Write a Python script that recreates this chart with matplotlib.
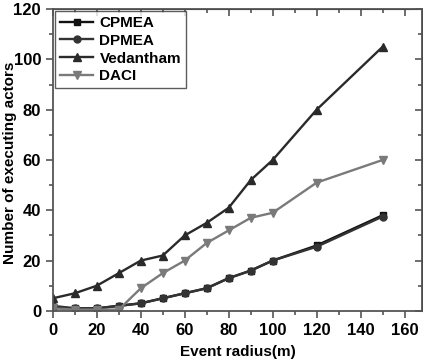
import matplotlib
matplotlib.use("Agg")
import matplotlib.pyplot as plt
from matplotlib.ticker import MultipleLocator

plt.rcParams["font.family"] = ["Liberation Sans", "DejaVu Sans"]
plt.rcParams["font.weight"] = "bold"

radius = [0, 10, 20, 30, 40, 50, 60, 70, 80, 90, 100, 120, 150]
cpmea = [1.5, 1, 1, 2, 3, 5, 7, 9, 13, 16, 20, 26, 38]
dpmea = [2, 1, 1, 2, 3, 5, 7, 9, 13, 16, 20, 25.5, 37.5]
vedantham = [5, 7, 10, 15, 20, 22, 30, 35, 41, 52, 60, 80, 105]
daci = [1, 0.5, 0.5, 0.5, 9, 15, 20, 27, 32, 37, 39, 51, 60]

fig = plt.figure(figsize=(4.23, 3.64), dpi=100)
ax = fig.add_axes([0.125, 0.146, 0.873, 0.829])

ax.plot(radius, cpmea, "-s", color="#111111", lw=1.7, ms=5, label="CPMEA")
ax.plot(radius, dpmea, "-o", color="#333333", lw=1.7, ms=5, label="DPMEA")
ax.plot(radius, vedantham, "-^", color="#2a2a2a", lw=1.7, ms=6, label="Vedantham")
ax.plot(radius, daci, "-v", color="#7a7a7a", lw=1.7, ms=6, label="DACI")

ax.set_xlim(0, 168)
ax.set_ylim(0, 120)
ax.xaxis.set_major_locator(MultipleLocator(20))
ax.xaxis.set_minor_locator(MultipleLocator(10))
ax.yaxis.set_major_locator(MultipleLocator(20))
ax.yaxis.set_minor_locator(MultipleLocator(10))
ax.tick_params(which="both", direction="out", labelsize=12, width=1.2, color="#555555")
ax.tick_params(which="major", length=5)
ax.tick_params(which="minor", length=3)
for lab in ax.get_xticklabels() + ax.get_yticklabels():
    lab.set_fontweight("bold")

for s in ax.spines.values():
    s.set_color("#555555")
    s.set_linewidth(1.3)

top = ax.secondary_xaxis("top")
top.xaxis.set_major_locator(MultipleLocator(20))
top.xaxis.set_minor_locator(MultipleLocator(10))
top.tick_params(which="both", direction="in", labeltop=False, color="#555555", width=1.2)
top.tick_params(which="major", length=5)
top.tick_params(which="minor", length=3)
right = ax.secondary_yaxis("right")
right.yaxis.set_major_locator(MultipleLocator(20))
right.yaxis.set_minor_locator(MultipleLocator(10))
right.tick_params(which="both", direction="in", labelright=False, color="#555555", width=1.2)
right.tick_params(which="major", length=5)
right.tick_params(which="minor", length=3)

ax.set_xlabel("Event radius(m)", fontsize=11, fontweight="bold", labelpad=5)
ax.set_ylabel("Number of executing actors", fontsize=11, fontweight="bold")
ax.yaxis.set_label_coords(-0.097, 0.49)

leg = ax.legend(loc="upper left", fontsize=11, frameon=True, fancybox=False,
                edgecolor="#333333", borderaxespad=0.15, handlelength=2.2,
                labelspacing=0.25, borderpad=0.3, handletextpad=0.4)
leg.get_frame().set_linewidth(1.0)
for t in leg.get_texts():
    t.set_fontweight("bold")

fig.savefig("out.png", dpi=100)
